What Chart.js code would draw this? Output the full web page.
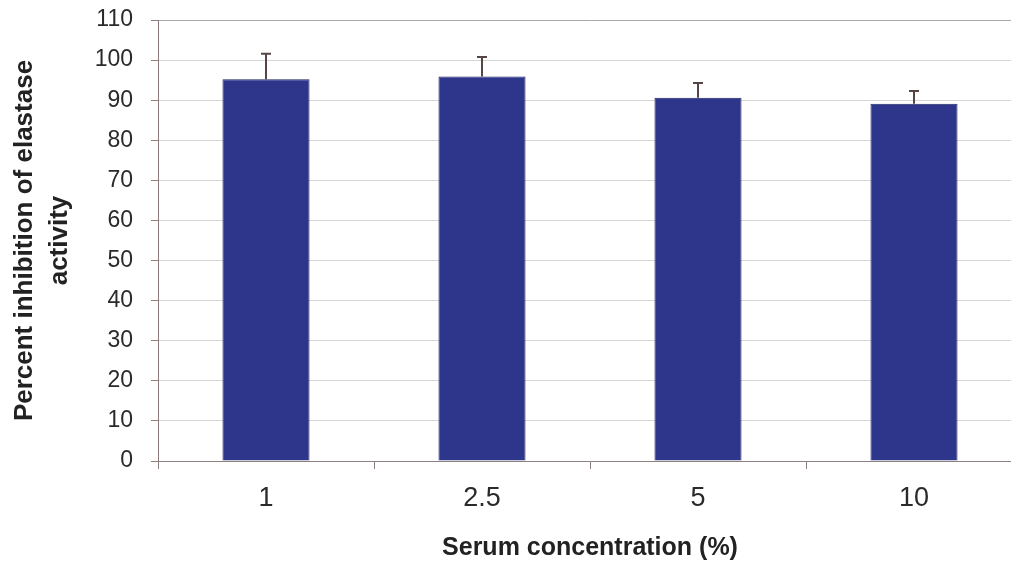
<!DOCTYPE html>
<html>
<head>
<meta charset="utf-8">
<script src="https://cdn.jsdelivr.net/npm/chart.js@4"></script>
<style>
  html, body { margin: 0; padding: 0; background: #fff; overflow: hidden; }
  #wrap { width: 1030px; height: 561px; }
</style>
</head>
<body>
<div id="wrap"><canvas id="chart-elastase"></canvas></div>
<script>
const categories = ['1', '2.5', '5', '10'];
const inhibition = [95.2, 95.9, 90.6, 89.1];
const errors = [6.4, 4.9, 3.7, 3.2];
const yTicks = [0, 10, 20, 30, 40, 50, 60, 70, 80, 90, 100, 110];

// draws the upper error whiskers through the y scale
const errorBars = {
    id: 'errorBars',
    afterDatasetsDraw(chart) {
        const ctx = chart.ctx;
        const meta = chart.getDatasetMeta(0);
        const y = chart.scales.y;
        ctx.save();
        ctx.strokeStyle = '#554545';
        ctx.lineWidth = 2;
        meta.data.forEach(function (bar, i) {
            const top = y.getPixelForValue(inhibition[i] + errors[i]);
            ctx.beginPath();
            ctx.moveTo(bar.x, bar.y);
            ctx.lineTo(bar.x, top);
            ctx.moveTo(bar.x - 5, top);
            ctx.lineTo(bar.x + 5, top);
            ctx.stroke();
        });
        ctx.restore();
    }
};

var ctx = document.getElementById('chart-elastase');
var myChart = new Chart(ctx, {
    type: 'bar',
    data: {
        labels: categories,
        datasets: [{
            label: 'Percent inhibition',
            data: inhibition,
            backgroundColor: '#2e368c',
            borderColor: '#1c2366',
            borderWidth: 1,
            barPercentage: 1,
            categoryPercentage: 0.403
        }]
    },
    options: {
        responsive: true,
        maintainAspectRatio: false,
        animation: false,
        layout: { padding: { top: 20, right: 8, left: 0, bottom: 0 } },
        plugins: {
            legend: { display: false },
            tooltip: { enabled: false }
        },
        scales: {
            x: {
                offset: true,
                afterFit: function (scale) {
                    scale.height = 100;
                    scale.paddingLeft = 0;
                    scale.paddingRight = 0;
                },
                grid: {
                    offset: true,
                    drawOnChartArea: false,
                    drawTicks: true,
                    tickLength: 8,
                    color: '#8c8080'
                },
                border: { color: '#8c8080', width: 1 },
                ticks: {
                    color: '#2a2a2a',
                    padding: 13,
                    font: { family: "'Liberation Sans', Arial", size: 27 }
                },
                title: {
                    display: true,
                    text: 'Serum concentration (%)',
                    color: '#222',
                    padding: { top: 4, bottom: 0 },
                    font: { family: "'Liberation Sans', Arial", size: 25, weight: 'bold', lineHeight: 1.0 }
                }
            },
            y: {
                min: 0,
                max: 110,
                afterFit: function (scale) {
                    scale.width = 158;
                    scale.paddingTop = 0;
                    scale.paddingBottom = 0;
                },
                afterBuildTicks: function (scale) {
                    scale.ticks = yTicks.map(function (v) { return { value: v }; });
                },
                grid: {
                    color: function (c) { return c.tick && c.tick.value === 110 ? '#a8a8a8' : '#d6d6d6'; },
                    tickLength: 7,
                    tickColor: '#8c8080'
                },
                border: { color: '#8c7a7a', width: 1 },
                ticks: {
                    color: '#2a2a2a',
                    padding: 18,
                    font: { family: "'Liberation Sans', Arial", size: 23 }
                },
                title: {
                    display: true,
                    text: ['Percent inhibition of elastase', 'activity'],
                    color: '#222',
                    padding: { top: 7, bottom: 0 },
                    font: { family: "'Liberation Sans', Arial", size: 26, weight: 'bold', lineHeight: 1.35 }
                }
            }
        }
    },
    plugins: [errorBars]
});
</script>
</body>
</html>
